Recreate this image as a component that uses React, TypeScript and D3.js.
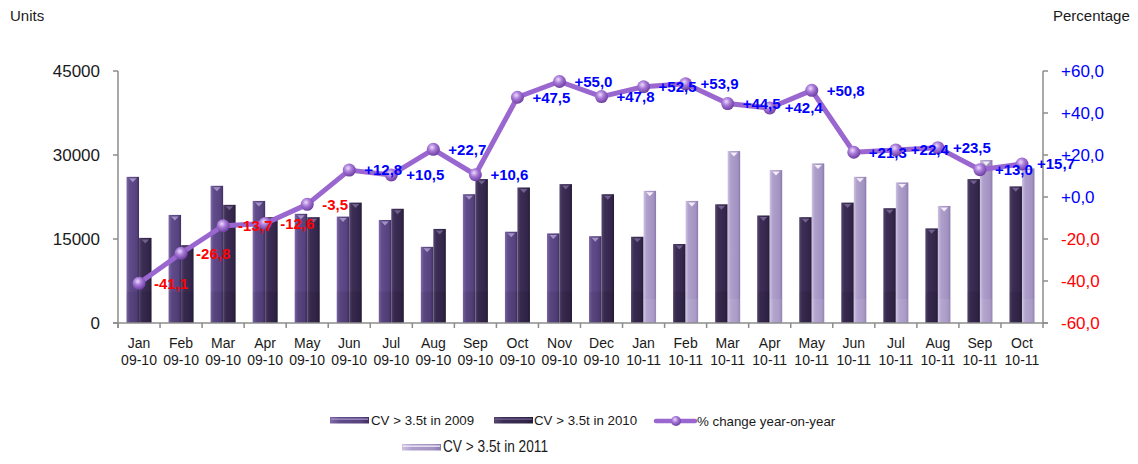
import { useEffect, useRef } from 'react'
import * as d3 from 'd3'

const months = ['Jan', 'Feb', 'Mar', 'Apr', 'May', 'Jun', 'Jul', 'Aug', 'Sep', 'Oct', 'Nov', 'Dec',
  'Jan', 'Feb', 'Mar', 'Apr', 'May', 'Jun', 'Jul', 'Aug', 'Sep', 'Oct']
const periods = ['09-10', '09-10', '09-10', '09-10', '09-10', '09-10', '09-10', '09-10', '09-10', '09-10', '09-10', '09-10',
  '10-11', '10-11', '10-11', '10-11', '10-11', '10-11', '10-11', '10-11', '10-11', '10-11']

// units, Jan 09-10 .. Dec 09-10
const units2009 = [26100, 19300, 24500, 21800, 19500, 19000, 18400, 13600, 23000, 16300, 16000, 15500]
const units2010a = [15200, 13900, 21100, 18900, 18900, 21500, 20400, 16800, 25700, 24200, 24800, 23000]
// units, Jan 10-11 .. Oct 10-11
const units2010b = [15400, 14100, 21200, 19200, 18900, 21500, 20500, 16900, 25700, 24400]
const units2011 = [23600, 21800, 30700, 27300, 28500, 26100, 25100, 20900, 29100, 27600]

const pctChange = [-41.1, -26.8, -13.7, -12.6, -3.5, 12.8, 10.5, 22.7, 10.6, 47.5, 55.0, 47.8,
  52.5, 53.9, 44.5, 42.4, 50.8, 21.3, 22.4, 23.5, 13.0, 15.7]

const leftTicks = [0, 15000, 30000, 45000]
const rightTicks = [-60, -40, -20, 0, 20, 40, 60]

const W = 1138
const H = 464
const FONT = "'Liberation Sans', Arial, sans-serif"

const fmtPct = (v: number) => (v >= 0 ? '+' : '') + v.toFixed(1).replace('.', ',')

type Series = 's2009' | 's2010' | 's2011'
const palette: Record<Series, { stops: string[]; tri: string }> = {
  s2009: { stops: ['#806aa9', '#614c8b', '#56427e', '#3f2f5e'], tri: '#a392c4' },
  s2010: { stops: ['#56466f', '#3c2d55', '#33264a', '#241a36'], tri: '#6f5f8c' },
  s2011: { stops: ['#cfc3e3', '#ae9fcb', '#a292c1', '#8a79ad'], tri: '#f3eefa' },
}

export default function App() {
  const ref = useRef<SVGSVGElement | null>(null)

  useEffect(() => {
    if (!ref.current) return
    const svg = d3.select(ref.current)
    svg.selectAll('*').remove()

    const x0 = 118, x1 = 1043, yTop = 71, yBot = 323
    const idx = months.map((_, i) => i)
    const x = d3.scaleBand<number>().domain(idx).range([x0, x1]).paddingInner(0).paddingOuter(0)
    const yL = d3.scaleLinear().domain([0, 45000]).range([yBot, yTop])
    const yR = d3.scaleLinear().domain([-60, 60]).range([yBot, yTop])

    const leftVals = [...units2009, ...units2010b]
    const rightVals = [...units2010a, ...units2011]
    const leftSer: Series[] = idx.map(i => (i < 12 ? 's2009' : 's2010'))
    const rightSer: Series[] = idx.map(i => (i < 12 ? 's2010' : 's2011'))

    const defs = svg.append('defs')
    ;(Object.keys(palette) as Series[]).forEach(k => {
      const g = defs.append('linearGradient').attr('id', `g-${k}`).attr('x1', 0).attr('x2', 1).attr('y1', 0).attr('y2', 0)
      const s = palette[k].stops
      g.append('stop').attr('offset', 0).attr('stop-color', s[0])
      g.append('stop').attr('offset', 0.25).attr('stop-color', s[1])
      g.append('stop').attr('offset', 0.8).attr('stop-color', s[2])
      g.append('stop').attr('offset', 1).attr('stop-color', s[3])
    })
    const rg = defs.append('radialGradient').attr('id', 'marker').attr('cx', 0.4).attr('cy', 0.35).attr('r', 0.65)
    rg.append('stop').attr('offset', 0).attr('stop-color', '#ecdcfb')
    rg.append('stop').attr('offset', 0.45).attr('stop-color', '#a878d8')
    rg.append('stop').attr('offset', 1).attr('stop-color', '#6c3fa0')

    const barW = 12.5
    const drawBar = (g: d3.Selection<SVGGElement, unknown, null, undefined>, bx: number, v: number, ser: Series) => {
      const top = yL(v)
      g.append('rect').attr('x', bx).attr('y', top).attr('width', barW).attr('height', yBot - top)
        .attr('fill', `url(#g-${ser})`)
      // faint reflection band near the base
      const band = yL(ser === 's2011' ? 4300 : 5600)
      g.append('rect').attr('x', bx).attr('y', band).attr('width', barW).attr('height', yBot - band)
        .attr('fill', ser === 's2011' ? '#ffffff' : '#000000').attr('opacity', 0.08)
      g.append('path')
        .attr('d', `M${bx + 2.5},${top + 1.5}L${bx + barW - 2.5},${top + 1.5}L${bx + barW / 2},${top + 5.5}Z`)
        .attr('fill', palette[ser].tri)
    }

    const bars = svg.append('g')
    idx.forEach(i => {
      const c = x(i)! + x.bandwidth() / 2
      drawBar(bars, c - barW, leftVals[i], leftSer[i])
      drawBar(bars, c, rightVals[i], rightSer[i])
    })

    // axes
    const axisColor = '#8c8c8c'
    const ax = svg.append('g').attr('stroke', axisColor).attr('stroke-width', 1.5)
    ax.append('line').attr('x1', x0).attr('x2', x0).attr('y1', yTop).attr('y2', yBot + 5)
    ax.append('line').attr('x1', x1).attr('x2', x1).attr('y1', yTop).attr('y2', yBot + 5)
    ax.append('line').attr('x1', x0 - 5).attr('x2', x1 + 5).attr('y1', yBot).attr('y2', yBot)
    leftTicks.forEach(t => {
      ax.append('line').attr('x1', x0 - 5).attr('x2', x0).attr('y1', yL(t)).attr('y2', yL(t))
    })
    rightTicks.forEach(t => {
      ax.append('line').attr('x1', x1).attr('x2', x1 + 5).attr('y1', yR(t)).attr('y2', yR(t))
    })
    idx.forEach(i => {
      const bx = x(i)!
      ax.append('line').attr('x1', bx).attr('x2', bx).attr('y1', yBot).attr('y2', yBot + 5)
    })

    const txt = svg.append('g').attr('font-family', FONT)
    leftTicks.forEach(t => {
      txt.append('text').attr('x', 100).attr('y', yL(t)).attr('dy', '0.35em')
        .attr('text-anchor', 'end').attr('font-size', 17).attr('fill', '#1a1a1a').text(String(t))
    })
    rightTicks.forEach(t => {
      txt.append('text').attr('x', 1061).attr('y', yR(t)).attr('dy', '0.35em')
        .attr('font-size', 17).attr('fill', t < 0 ? '#ff0000' : '#0000ff').text(fmtPct(t))
    })
    idx.forEach(i => {
      const c = x(i)! + x.bandwidth() / 2
      txt.append('text').attr('x', c).attr('y', 348).attr('text-anchor', 'middle')
        .attr('font-size', 14).attr('fill', '#1a1a1a').text(months[i])
      txt.append('text').attr('x', c).attr('y', 365).attr('text-anchor', 'middle')
        .attr('font-size', 14).attr('fill', '#1a1a1a').text(periods[i])
    })
    txt.append('text').attr('x', 10).attr('y', 21).attr('font-size', 15).attr('fill', '#1a1a1a').text('Units')
    txt.append('text').attr('x', 1053).attr('y', 21).attr('font-size', 15).attr('fill', '#1a1a1a').text('Percentage')

    // percentage line
    const cx = (i: number) => x(i)! + x.bandwidth() / 2
    const line = d3.line<number>().x((_, i) => cx(i)).y(d => yR(d))
    svg.append('path').datum(pctChange).attr('d', line).attr('fill', 'none')
      .attr('stroke', '#9a66cf').attr('stroke-width', 5).attr('stroke-linejoin', 'round')
    svg.append('g').selectAll('circle').data(pctChange).join('circle')
      .attr('cx', (_, i) => cx(i)).attr('cy', d => yR(d)).attr('r', 6.5)
      .attr('fill', 'url(#marker)')

    svg.append('g').attr('font-family', FONT).selectAll('text').data(pctChange).join('text')
      .attr('x', (_, i) => cx(i) + 15).attr('y', d => yR(d)).attr('dy', '0.35em')
      .attr('font-size', 15).attr('font-weight', 'bold')
      .attr('fill', d => (d < 0 ? '#ff0000' : '#0000ff')).text(d => fmtPct(d))

    // legend
    const lg = svg.append('g').attr('font-family', FONT).attr('font-size', 13.3).attr('fill', '#1a1a1a')
    const swatch = (sx: number, sy: number, ser: Series) => {
      lg.append('rect').attr('x', sx).attr('y', sy).attr('width', 39).attr('height', 6.5)
        .attr('fill', `url(#g-${ser})`)
      lg.append('rect').attr('x', sx + 1).attr('y', sy + 1.5).attr('width', 37).attr('height', 1.3)
        .attr('fill', palette[ser].tri)
    }
    swatch(330, 417, 's2009')
    lg.append('text').attr('x', 371).attr('y', 425).text('CV > 3.5t in 2009')
    swatch(494, 417, 's2010')
    lg.append('text').attr('x', 534).attr('y', 425).text('CV > 3.5t in 2010')
    lg.append('line').attr('x1', 656).attr('x2', 695).attr('y1', 421).attr('y2', 421)
      .attr('stroke', '#9a66cf').attr('stroke-width', 4.5).attr('stroke-linecap', 'round')
    lg.append('circle').attr('cx', 676).attr('cy', 421).attr('r', 5).attr('fill', 'url(#marker)')
    lg.append('text').attr('x', 697).attr('y', 425.5).text('% change year-on-year')
    swatch(402, 444, 's2011')
    lg.append('text').attr('x', 443).attr('y', 452).attr('font-size', 16)
      .attr('textLength', 105).attr('lengthAdjust', 'spacingAndGlyphs').text('CV > 3.5t in 2011')
  }, [])

  return (
    <svg ref={ref} width={W} height={H} viewBox={`0 0 ${W} ${H}`}
      style={{ position: 'absolute', left: 0, top: 0, background: '#fff' }} />
  )
}
